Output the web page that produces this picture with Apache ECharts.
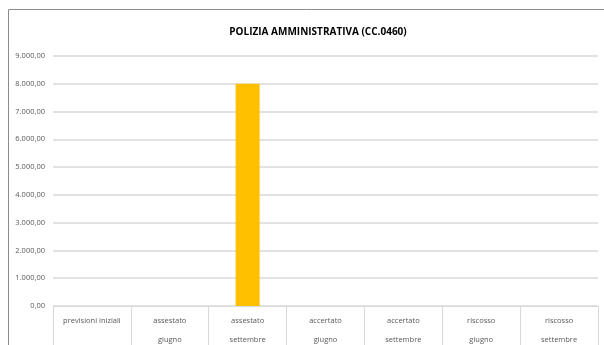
<!DOCTYPE html>
<html>
<head>
<meta charset="utf-8">
<script src="https://cdn.jsdelivr.net/npm/echarts@6/dist/echarts.min.js"></script>
<style>
  html, body { margin: 0; padding: 0; background: #fff; }
  #chart { width: 604px; height: 345px; }
</style>
</head>
<body>
<div id="chart"></div>
<script>
var categories = ['previsioni iniziali', 'assestato\ngiugno', 'assestato\nsettembre', 'accertato\ngiugno', 'accertato\nsettembre', 'riscosso\ngiugno', 'riscosso\nsettembre'];
var values = [0, 0, 8000, 0, 0, 0, 0];
var yTicks = [0, 1000, 2000, 3000, 4000, 5000, 6000, 7000, 8000, 9000];

function fmt(v) {
  var parts = v.toFixed(2).split('.');
  var intPart = parts[0].replace(/\B(?=(\d{3})+(?!\d))/g, '.');
  return intPart + ',' + parts[1];
}

var myChart = echarts.init(document.getElementById('chart'));
var option = {
  animation: false,
  title: {
    text: 'POLIZIA AMMINISTRATIVA (CC.0460)',
    left: 313,
    textAlign: 'center',
    top: 22,
    textStyle: { fontFamily: 'Open Sans', fontSize: 10, fontWeight: 'bold', color: '#000' }
  },
  graphic: [{
    type: 'rect',
    shape: { x: 8.5, y: 9.5, width: 700, height: 400 },
    style: { fill: 'none', stroke: '#8c8c8c', lineWidth: 1 },
    silent: true
  }],
  grid: { left: 53, right: 6, top: 56, bottom: 39, containLabel: false, outerBoundsMode: 'none' },
  xAxis: {
    type: 'category',
    data: categories,
    axisLine: { lineStyle: { color: '#d9d9d9', width: 1 } },
    axisTick: { show: true, length: 40, lineStyle: { color: '#d9d9d9' } },
    axisLabel: {
      fontFamily: 'Open Sans', fontSize: 7.5, color: '#595959',
      margin: 5, lineHeight: 19, interval: 0
    }
  },
  yAxis: {
    type: 'value',
    min: yTicks[0],
    max: yTicks[yTicks.length - 1],
    interval: 1000,
    axisLine: { show: false },
    axisTick: { show: false },
    axisLabel: {
      fontFamily: 'Open Sans', fontSize: 7.5, color: '#595959', margin: 8,
      formatter: function (v) { return fmt(v); }
    },
    splitLine: { lineStyle: { color: '#d9d9d9', width: 1.5 } }
  },
  series: [{
    type: 'bar',
    data: values,
    barWidth: 24,
    itemStyle: { color: '#ffc000' }
  }]
};
option && myChart.setOption(option);
</script>
</body>
</html>
